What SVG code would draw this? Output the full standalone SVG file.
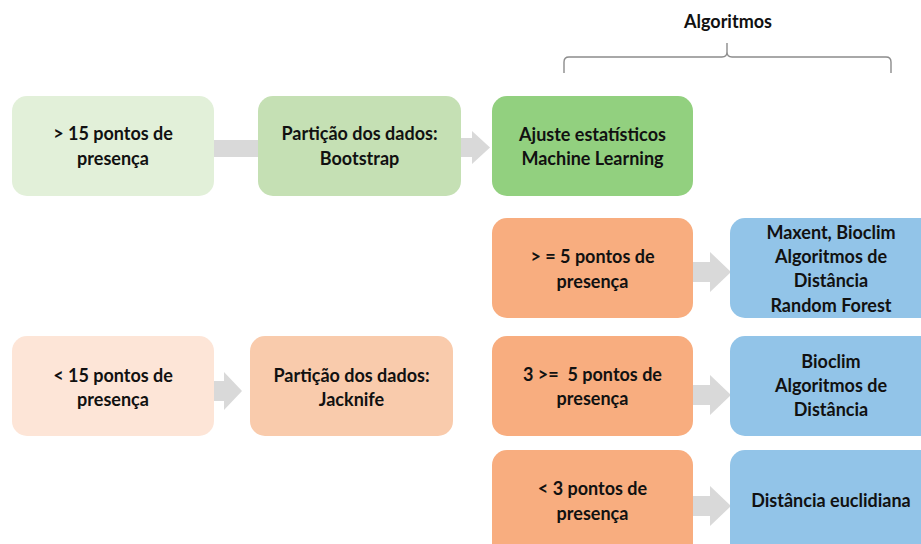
<svg xmlns="http://www.w3.org/2000/svg" width="921" height="544" viewBox="0 0 921 544">
<style>
.t{font-family:Lato,"Liberation Sans",sans-serif;font-weight:bold;font-size:18px;fill:#111;text-anchor:middle}
.a{fill:#d9d9d9}
.br{fill:none;stroke:#8c8c8c;stroke-width:1.4}
</style>
<rect width="921" height="544" fill="#fff"/>
<g id="connectors">
<rect class="a" x="212" y="140" width="50" height="17"/>
<polygon class="a" points="460,138 472,138 472,131 490,147.5 472,164 472,157 460,157"/>
<polygon class="a" points="212,381 224,381 224,372 242,391 224,410 224,401 212,401"/>
<polygon class="a" points="691,262 710,262 710,252 731,272 710,292 710,282 691,282"/>
<polygon class="a" points="691,385 710,385 710,375 731,395 710,415 710,405 691,405"/>
<polygon class="a" points="691,496 710,496 710,486 731,506 710,526 710,516 691,516"/>
</g>
<g id="bracket">
<path class="br" d="M564,73 V62 Q564,57 569,57 H722 Q727,57 727,52 V43 V52 Q727,57 732,57 H886 Q891,57 891,62 V73"/>
<text class="t" x="728" y="28">Algoritmos</text>
</g>
<g id="n1">
<rect x="12" y="96" width="202" height="100" rx="15" fill="#e2f0d9"/>
<text class="t" x="113" y="140">&gt; 15 pontos de</text>
<text class="t" x="113" y="165">presença</text>
</g>
<g id="n2">
<rect x="258" y="96" width="203" height="100" rx="15" fill="#c5e0b4"/>
<text class="t" x="359.5" y="140">Partição dos dados:</text>
<text class="t" x="359.5" y="165">Bootstrap</text>
</g>
<g id="n3">
<rect x="492" y="96" width="201" height="100" rx="15" fill="#92d07f"/>
<text class="t" x="592.5" y="141">Ajuste estatísticos</text>
<text class="t" x="592.5" y="165">Machine Learning</text>
</g>
<g id="n4">
<rect x="492" y="218" width="201" height="100" rx="15" fill="#f8ad7f"/>
<text class="t" x="592.5" y="263">&gt; = 5 pontos de</text>
<text class="t" x="592.5" y="288">presença</text>
</g>
<g id="n5">
<rect x="730" y="218" width="205" height="100" rx="15" fill="#92c4e8"/>
<text class="t" x="831" y="239">Maxent, Bioclim</text>
<text class="t" x="831" y="263">Algoritmos de</text>
<text class="t" x="831" y="287">Distância</text>
<text class="t" x="831" y="312">Random Forest</text>
</g>
<g id="n6">
<rect x="12" y="336" width="202" height="100" rx="15" fill="#fde5d7"/>
<text class="t" x="113" y="382">&lt; 15 pontos de</text>
<text class="t" x="113" y="406">presença</text>
</g>
<g id="n7">
<rect x="250" y="336" width="203" height="100" rx="15" fill="#f9cbac"/>
<text class="t" x="351.5" y="382">Partição dos dados:</text>
<text class="t" x="351.5" y="406">Jacknife</text>
</g>
<g id="n8">
<rect x="492" y="336" width="201" height="100" rx="15" fill="#f8ad7f"/>
<text class="t" x="592.5" y="381" xml:space="preserve">3 &gt;=  5 pontos de</text>
<text class="t" x="592.5" y="405">presença</text>
</g>
<g id="n9">
<rect x="730" y="336" width="205" height="100" rx="15" fill="#92c4e8"/>
<text class="t" x="831" y="368">Bioclim</text>
<text class="t" x="831" y="392">Algoritmos de</text>
<text class="t" x="831" y="416">Distância</text>
</g>
<g id="n10">
<rect x="492" y="450" width="201" height="110" rx="15" fill="#f8ad7f"/>
<text class="t" x="592.5" y="495">&lt; 3 pontos de</text>
<text class="t" x="592.5" y="520">presença</text>
</g>
<g id="n11">
<rect x="730" y="450" width="205" height="110" rx="15" fill="#92c4e8"/>
<text class="t" x="831" y="507">Distância euclidiana</text>
</g>
</svg>
